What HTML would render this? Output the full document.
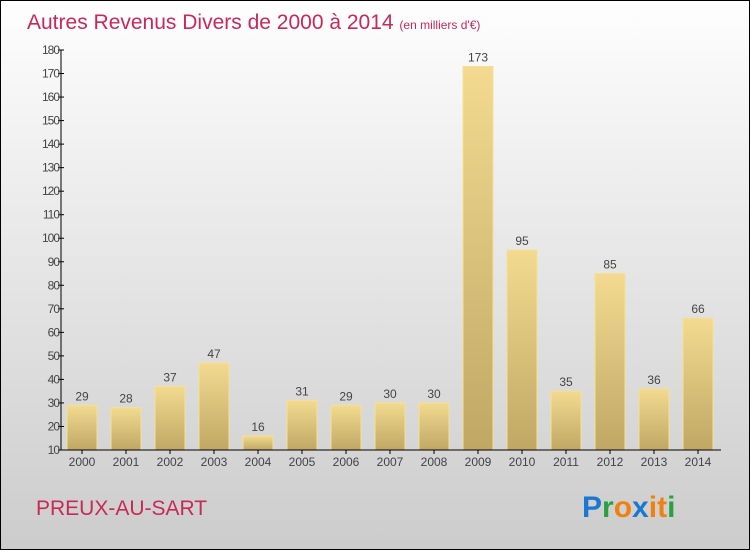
<!DOCTYPE html>
<html><head><meta charset="utf-8"><style>
body{margin:0}
#c{width:750px;height:550px;position:relative;box-sizing:border-box;border:1px solid #000;background:linear-gradient(#fefefe,#cccccc);font-family:"Liberation Sans",sans-serif;overflow:hidden}
</style></head><body>
<div id="c">
<svg width="748" height="548" id="svg">
<defs><linearGradient id="bg" x1="0" y1="0" x2="0" y2="1"><stop offset="0" stop-color="#f3da90"/><stop offset="1" stop-color="#c0a864"/></linearGradient></defs>
<text x="26" y="28" font-size="21" fill="#c8285a">Autres Revenus Divers de 2000 à 2014 <tspan font-size="12">(en milliers d'€)</tspan></text>
<text x="35" y="514" font-size="21" fill="#c8285a">PREUX-AU-SART</text>
<g id="bars"></g>
<g id="axes"></g>
<text x="581" y="516" font-size="30" font-weight="bold"><tspan fill="#1a78d0">P</tspan><tspan fill="#2aa040">r</tspan><tspan fill="#f08010">o</tspan><tspan fill="#1a78d0">x</tspan><tspan fill="#f08010">i</tspan><tspan fill="#f08010">t</tspan><tspan fill="#2aa040">i</tspan></text>
</svg>
</div>
<script>
const years=["2000","2001","2002","2003","2004","2005","2006","2007","2008","2009","2010","2011","2012","2013","2014"];
const values=[29,28,37,47,16,31,29,30,30,173,95,35,85,36,66];
const yTicks=[10,20,30,40,50,60,70,80,90,100,110,120,130,140,150,160,170,180];
const NS="http://www.w3.org/2000/svg";
const y=v=>449-(v-10)*400/170;
const x=i=>66+44*i;
function mk(t,a,p){const e=document.createElementNS(NS,t);for(const k in a)e.setAttribute(k,a[k]);p.appendChild(e);return e;}
const bars=document.getElementById('bars'),axes=document.getElementById('axes');
values.forEach((v,i)=>{
 const r=mk('rect',{x:x(i),y:y(v),width:30,height:y(10)-y(v),fill:'url(#bg)',stroke:'#f5e098','stroke-width':1},bars);
 
 
 const t=mk('text',{x:x(i)+15,y:y(v)-5,'font-size':12,'text-anchor':'middle',fill:'#444'},bars);
 t.textContent=v;
 
 
 const l=mk('text',{x:x(i)+15,y:y(10)+16,'font-size':12,'text-anchor':'middle',fill:'#444'},axes);
 l.textContent=years[i];
 
 
 mk('line',{x1:x(i)+15,x2:x(i)+15,y1:y(10),y2:y(10)+4,stroke:'#000'},axes);
});
mk('line',{x1:60,x2:60,y1:y(180),y2:y(10),stroke:'#000','stroke-width':1},axes);
mk('line',{x1:60,x2:720,y1:y(10),y2:y(10),stroke:'#000','stroke-width':1},axes);
yTicks.forEach(v=>{
 mk('line',{x1:57,x2:63,y1:y(v),y2:y(v),stroke:'#000'},axes);
 const t=mk('text',{x:58,y:y(v)+4,'font-size':12,'text-anchor':'end',fill:'#444','letter-spacing':'-1'},axes);
 t.textContent=v;
 
 
});
</script>
</body></html>
